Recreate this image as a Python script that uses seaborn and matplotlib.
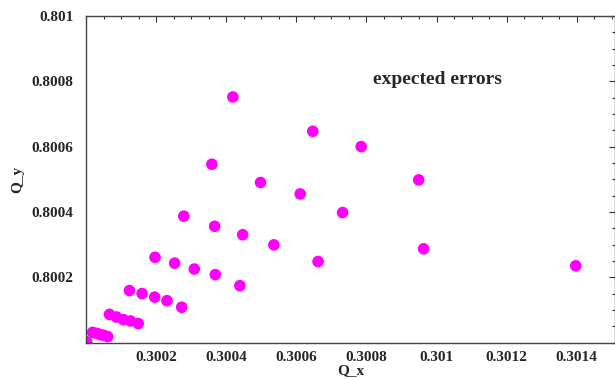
import matplotlib
matplotlib.use("Agg")
import matplotlib.pyplot as plt
from matplotlib.ticker import MultipleLocator
import seaborn as sns
import pandas as pd

# Values
q_x = [
    0.300419, 0.300647, 0.300785, 0.300359, 0.300498, 0.300611, 0.300949,
    0.300279, 0.300367, 0.300447, 0.300536, 0.300732, 0.300963, 0.300662,
    0.301397,
    0.300197, 0.300253, 0.300309, 0.300369, 0.300439,
    0.300124, 0.300160, 0.300196, 0.300231, 0.300273,
    0.300067, 0.300087, 0.300107, 0.300127, 0.300149,
    0.300019, 0.300031, 0.300041, 0.300051, 0.300062,
    0.300002,
]
q_y = [
    0.800752, 0.800647, 0.800600, 0.800546, 0.800490, 0.800455, 0.800498,
    0.800387, 0.800356, 0.800330, 0.800299, 0.800398, 0.800287, 0.800248,
    0.800235,
    0.800261, 0.800243, 0.800225, 0.800208, 0.800174,
    0.800159, 0.800150, 0.800139, 0.800128, 0.800108,
    0.800086, 0.800078, 0.800070, 0.800066, 0.800058,
    0.800031, 0.800028, 0.800024, 0.800022, 0.800018,
    0.800002,
]

x_ticks = [0.3002, 0.3004, 0.3006, 0.3008, 0.3010, 0.3012, 0.3014]
x_tick_labels = ["0.3002", "0.3004", "0.3006", "0.3008", "0.301", "0.3012", "0.3014"]
y_ticks = [0.8002, 0.8004, 0.8006, 0.8008, 0.8010]
y_tick_labels = ["0.8002", "0.8004", "0.8006", "0.8008", "0.801"]

df = pd.DataFrame({"Q_x": q_x, "Q_y": q_y})

sns.set_style("white")
plt.rcParams["font.family"] = ["Liberation Serif", "DejaVu Serif"]
plt.rcParams["font.weight"] = "bold"

fig = plt.figure(figsize=(6.15, 3.79), dpi=100)
ax = fig.add_axes([0.1398, 0.0963, 1.0 - 0.1398, 0.8615])

sns.scatterplot(
    data=df, x="Q_x", y="Q_y", ax=ax,
    color="#ff00ff", s=70, edgecolor="none", linewidth=0,
)

ax.set_xlim(0.3, 0.301509)
ax.set_ylim(0.8, 0.801)

ax.set_xticks(x_ticks)
ax.set_xticklabels(x_tick_labels, fontsize=11, fontweight="bold")
ax.set_yticks(y_ticks)
ax.set_yticklabels(y_tick_labels, fontsize=11, fontweight="bold")
ax.xaxis.set_minor_locator(MultipleLocator(0.00005))
ax.yaxis.set_minor_locator(MultipleLocator(0.00005))

ax.tick_params(which="both", direction="in", top=True, right=True,
               color="#333333", width=0.8)
ax.tick_params(which="major", length=4)
ax.tick_params(which="minor", length=2)
ax.tick_params(axis="x", which="major", pad=6)
ax.tick_params(axis="y", which="major", pad=9)

for sp in ax.spines.values():
    sp.set_color("#444444")
    sp.set_linewidth(1.0)

ax.set_xlabel("Q_x", fontsize=11, fontweight="bold", labelpad=0)
ax.set_ylabel("Q_y", fontsize=11, fontweight="bold", labelpad=5)

ax.text(0.665, 0.804, "expected errors", transform=ax.transAxes,
        ha="center", va="center", fontsize=14, fontweight="bold")

fig.savefig("out.png", dpi=100)
